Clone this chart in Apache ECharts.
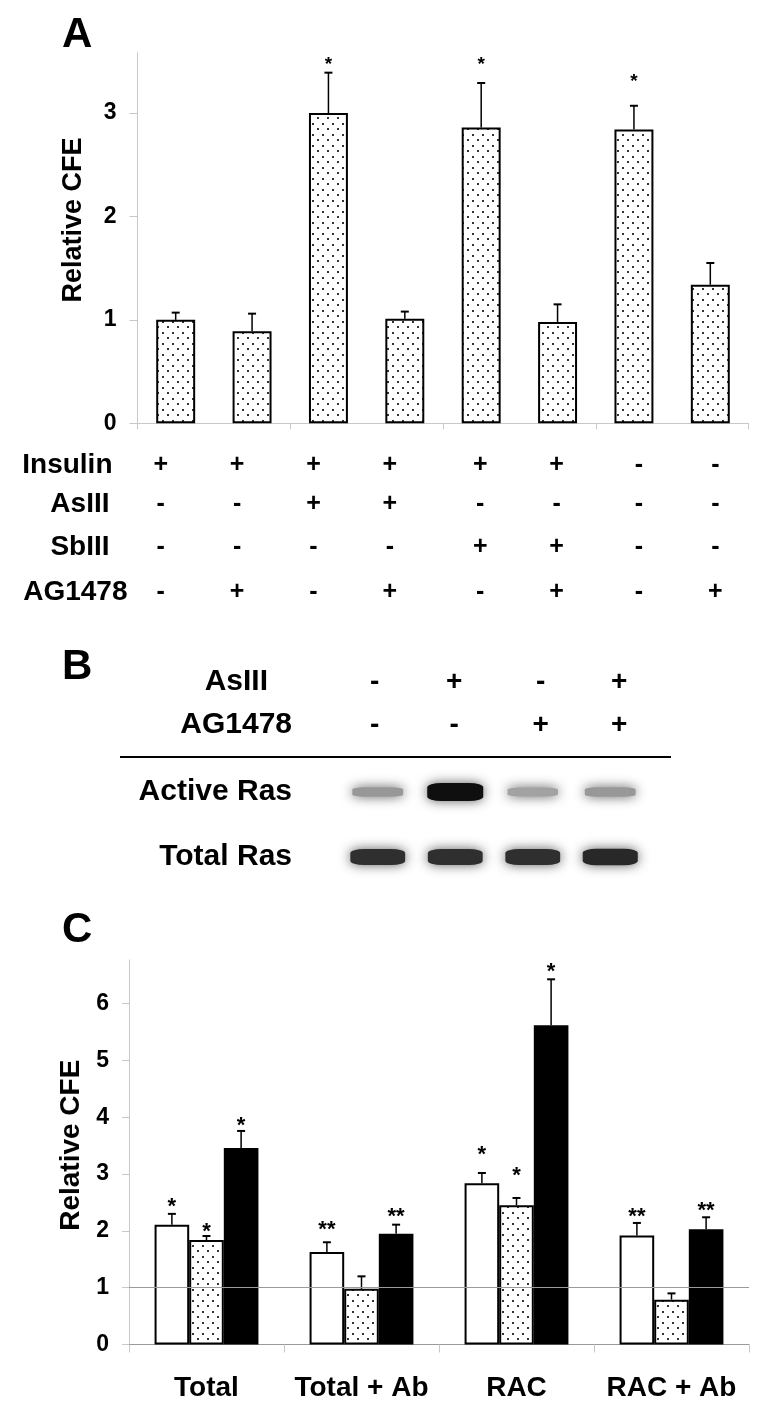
<!DOCTYPE html>
<html>
<head>
<meta charset="utf-8">
<script src="https://cdn.jsdelivr.net/npm/echarts@6/dist/echarts.min.js"></script>
<style>
  html, body { margin: 0; padding: 0; background: #fff; }
  #main { width: 764px; height: 1416px; }
</style>
</head>
<body>
<div id="main"></div>
<script>
// ---------- panel A : relative CFE per treatment ----------
const catsA = ['Ins', 'Ins+AG1478', 'Ins+AsIII', 'Ins+AsIII+AG1478', 'Ins+SbIII', 'Ins+SbIII+AG1478', 'None', 'AG1478'];
const valuesA = [1.00, 0.89, 3.00, 1.01, 2.86, 0.98, 2.84, 1.34];
const seA = [0.07, 0.17, 0.39, 0.07, 0.43, 0.17, 0.23, 0.21];
const sigA = ['', '', '*', '', '*', '', '*', ''];
const sigAY = [null, null, 3.52, null, 3.52, null, 3.36, null];
const ticksA = [0, 1, 2, 3];
// treatment table under panel A
const insulin = ['+', '+', '+', '+', '+', '+', '-', '-'];
const asIII = ['-', '-', '+', '+', '-', '-', '-', '-'];
const sbIII = ['-', '-', '-', '-', '+', '+', '-', '-'];
const ag1478 = ['-', '+', '-', '+', '-', '+', '-', '+'];

// ---------- panel B : Ras pull-down blot ----------
const lanesB = ['1', '2', '3', '4'];
const rowsB = ['Active Ras', 'Total Ras'];
const asIIIB = ['-', '+', '-', '+'];
const ag1478B = ['-', '-', '+', '+'];
const activeRas = [0.35, 1.0, 0.3, 0.35];   // band intensity 0..1
const totalRas = [0.85, 0.85, 0.85, 0.88];

// ---------- panel C : relative CFE per fraction ----------
const catsC = ['Total', 'Total + Ab', 'RAC', 'RAC + Ab'];
const openC = [2.11, 1.63, 2.84, 1.92];
const openSe = [0.19, 0.17, 0.18, 0.22];
const dotC = [1.84, 0.98, 2.45, 0.79];
const dotSe = [0.07, 0.22, 0.13, 0.11];
const solidC = [3.46, 1.95, 5.62, 2.03];
const solidSe = [0.30, 0.16, 0.81, 0.21];
const openSig = ['*', '**', '*', '**'];
const openSigY = [2.54, 2.13, 3.45, 2.36];
const dotSig = ['*', '', '*', ''];
const dotSigY = [2.10, null, 3.08, null];
const solidSig = ['*', '**', '*', '**'];
const solidSigY = [3.96, 2.37, 6.68, 2.47];
const ticksC = [0, 1, 2, 3, 4, 5, 6];

const FONT = "'Liberation Sans', Arial, Helvetica, sans-serif";
const AXIS_GRAY = '#c8c8c8';

// dotted fill, like the excel pattern
function dotPattern() {
  let c = document.createElement('canvas');
  c.width = 10; c.height = 11;
  let ctx = c.getContext('2d');
  ctx.fillStyle = '#fff';
  ctx.fillRect(0, 0, 10, 11);
  ctx.fillStyle = '#333';
  ctx.fillRect(2, 2, 2, 2);
  ctx.fillRect(7, 7, 2, 2);
  return { image: c, repeat: 'repeat' };
}
const dots = dotPattern();

// error bar (upper half only), offset = fraction of band width
function errRender(offset) {
  return function (params, api) {
    let i = api.value(0), m = api.value(1), e = api.value(2);
    let band = api.size([1, 0])[0];
    let p0 = api.coord([i, m]);
    let p1 = api.coord([i, m + e]);
    let x = p0[0] + offset * band;
    return {
      type: 'group',
      children: [
        { type: 'line', shape: { x1: x, y1: p0[1], x2: x, y2: p1[1] }, style: { stroke: '#000', lineWidth: 1.5 } },
        { type: 'line', shape: { x1: x - 4, y1: p1[1], x2: x + 4, y2: p1[1] }, style: { stroke: '#000', lineWidth: 2 } }
      ]
    };
  };
}

function stars(sig, ys) {
  return sig.map((s, i) => [i, ys[i], s]).filter(d => d[2]);
}

// significance stars
function starSeries(sig, ys, xIdx, yIdx, offset, size) {
  let list = stars(sig, ys);
  return {
    type: 'custom', xAxisIndex: xIdx, yAxisIndex: yIdx, z: 3,
    data: list.map(d => [d[0], d[1]]),
    encode: { x: 0, y: 1 },
    renderItem: function (params, api) {
      let i = api.value(0), y = api.value(1);
      let band = api.size([1, 0])[0];
      let p = api.coord([i, y]);
      return {
        type: 'text',
        x: p[0] + offset * band,
        y: p[1] + size * 0.3,
        style: {
          text: list[params.dataIndex][2], fill: '#000',
          fontSize: size, fontFamily: FONT, fontWeight: 'bold',
          align: 'center', verticalAlign: 'middle'
        }
      };
    }
  };
}

// sign rows: small horizontal shifts like the original layout
const signShiftA = [-15, -15, -15, -15, -1, -1, 5, 5];
function signRich(shifts, size) {
  let rich = {};
  shifts.forEach((s, i) => {
    rich['s' + i] = {
      fontSize: size, fontWeight: 'bold', fontFamily: FONT, color: '#000',
      padding: s < 0 ? [0, -2 * s, 0, 0] : [0, 0, 0, 2 * s]
    };
  });
  return rich;
}

function signAxis(grid, data, signs, pos, offset, name, nameGap, shifts, size, nameSize) {
  return {
    gridIndex: grid,
    type: 'category',
    data: data,
    position: pos,
    offset: offset,
    axisLine: { show: false },
    axisTick: { show: false },
    axisLabel: {
      interval: 0,
      margin: 0,
      verticalAlign: 'middle',
      formatter: (v, idx) => '{s' + idx + '|' + signs[idx] + '}',
      rich: signRich(shifts, size)
    },
    name: name,
    nameLocation: 'start',
    nameGap: nameGap,
    nameTextStyle: { fontSize: nameSize, fontWeight: 'bold', fontFamily: FONT, color: '#000', verticalAlign: 'middle' }
  };
}

let chart = echarts.init(document.getElementById('main'), null, { renderer: 'canvas' });

let option = {
  animation: false,
  backgroundColor: '#fff',
  textStyle: { fontFamily: FONT },
  grid: [
    { left: 137.5, top: 52.7, width: 611, height: 370.6, outerBoundsMode: 'none' },
    { left: 339, top: 759.5, width: 310, height: 130, outerBoundsMode: 'none' },
    { left: 129, top: 960, width: 620, height: 384.5, outerBoundsMode: 'none' }
  ],
  xAxis: [
    { // 0: panel A
      gridIndex: 0, type: 'category', data: catsA,
      axisLine: { lineStyle: { color: AXIS_GRAY, width: 1 } },
      axisTick: { show: true, alignWithLabel: false, length: 6, lineStyle: { color: AXIS_GRAY } },
      axisLabel: { show: false },
      splitLine: { show: false }
    },
    signAxis(0, catsA, insulin, 'bottom', 41.7, 'Insulin', 25, signShiftA, 25, 28),
    signAxis(0, catsA, asIII, 'bottom', 80.7, 'AsIII', 28, signShiftA, 25, 28),
    signAxis(0, catsA, sbIII, 'bottom', 123.7, 'SbIII', 28, signShiftA, 25, 28),
    signAxis(0, catsA, ag1478, 'bottom', 168.7, 'AG1478', 10, signShiftA, 25, 28),
    { // 5: panel B lanes
      gridIndex: 1, type: 'category', data: lanesB, show: false
    },
    signAxis(1, lanesB, asIIIB, 'top', 77.5, 'AsIII', 71, [-3, -1, 8, 9], 28, 30),
    signAxis(1, lanesB, ag1478B, 'top', 34.5, 'AG1478', 47, [-3, -1, 8, 9], 28, 30),
    { // 8: panel C
      gridIndex: 2, type: 'category', data: catsC,
      axisLine: { lineStyle: { color: '#9a9a9a', width: 1 } },
      axisTick: { show: true, alignWithLabel: false, length: 8, lineStyle: { color: AXIS_GRAY } },
      axisLabel: { interval: 0, margin: 30, fontSize: 28, fontWeight: 'bold', color: '#000', fontFamily: FONT },
      splitLine: { show: false }
    }
  ],
  yAxis: [
    {
      gridIndex: 0, type: 'value', min: 0, max: 3.583,
      axisLine: { show: true, lineStyle: { color: AXIS_GRAY } },
      axisTick: { show: true, length: 8, customValues: ticksA, lineStyle: { color: AXIS_GRAY } },
      axisLabel: { customValues: ticksA, margin: 21, fontSize: 23, fontWeight: 'bold', color: '#000', fontFamily: FONT },
      splitLine: { show: false },
      name: 'Relative CFE', nameLocation: 'middle', nameGap: 50,
      nameTextStyle: { fontSize: 27, fontWeight: 'bold', color: '#000', fontFamily: FONT, padding: [0, 0, 0, 36] }
    },
    {
      gridIndex: 1, type: 'category', data: rowsB, inverse: true,
      axisLine: { show: false }, axisTick: { show: false },
      axisLabel: { margin: 47, fontSize: 30, fontWeight: 'bold', color: '#000', fontFamily: FONT },
      splitLine: { show: false }
    },
    {
      gridIndex: 2, type: 'value', min: 0, max: 6.77,
      axisLine: { show: true, lineStyle: { color: AXIS_GRAY } },
      axisTick: { show: true, length: 7, customValues: ticksC, lineStyle: { color: AXIS_GRAY } },
      axisLabel: { customValues: ticksC, margin: 20, fontSize: 23, fontWeight: 'bold', color: '#000', fontFamily: FONT },
      splitLine: { show: false },
      name: 'Relative CFE', nameLocation: 'middle', nameGap: 39,
      nameTextStyle: { fontSize: 28, fontWeight: 'bold', color: '#000', fontFamily: FONT, padding: [0, 0, 0, 14] }
    }
  ],
  series: [
    // ---- A ----
    {
      type: 'bar', xAxisIndex: 0, yAxisIndex: 0, data: valuesA, barWidth: '51%', z: 2,
      itemStyle: { color: dots, borderColor: '#000', borderWidth: 2 }
    },
    {
      type: 'custom', xAxisIndex: 0, yAxisIndex: 0, z: 3,
      renderItem: errRender(0),
      data: valuesA.map((v, i) => [i, v, seA[i]]),
      encode: { x: 0, y: 1 }
    },
    starSeries(sigA, sigAY, 0, 0, 0, 19),
    // ---- B ----
    {
      type: 'scatter', xAxisIndex: 5, yAxisIndex: 1, symbol: 'roundRect',
      symbolSize: (v) => [48 + 8 * v[2], 5 + 13 * v[2]],
      data: activeRas.map((v, i) => [i, 0, v]).concat(totalRas.map((v, i) => [i, 1, v])),
      itemStyle: {
        color: (p) => {
          let g = Math.round(225 - 210 * p.value[2]);
          return 'rgb(' + g + ',' + g + ',' + g + ')';
        },
        shadowBlur: 12,
        shadowColor: 'rgba(40,40,40,0.75)',
        opacity: 1
      }
    },
    // ---- C ----
    {
      type: 'line', xAxisIndex: 8, yAxisIndex: 2, data: [], z: 1,
      markLine: {
        silent: true, symbol: 'none', label: { show: false },
        lineStyle: { color: '#9a9a9a', width: 1, type: 'solid' },
        data: [{ yAxis: 1 }]
      }
    },
    {
      name: 'open', type: 'bar', xAxisIndex: 8, yAxisIndex: 2, data: openC, z: 2,
      barGap: '0%', barCategoryGap: '33%',
      itemStyle: { color: '#fff', borderColor: '#000', borderWidth: 2 }
    },
    {
      name: 'dotted', type: 'bar', xAxisIndex: 8, yAxisIndex: 2, data: dotC, z: 2,
      barGap: '0%', barCategoryGap: '33%',
      itemStyle: { color: dots, borderColor: '#000', borderWidth: 2 }
    },
    {
      name: 'solid', type: 'bar', xAxisIndex: 8, yAxisIndex: 2, data: solidC, z: 2,
      barGap: '0%', barCategoryGap: '33%',
      itemStyle: { color: '#000', borderColor: '#000', borderWidth: 2 }
    },
    {
      type: 'custom', xAxisIndex: 8, yAxisIndex: 2, z: 3, renderItem: errRender(-0.2233),
      data: openC.map((v, i) => [i, v, openSe[i]]), encode: { x: 0, y: 1 }
    },
    {
      type: 'custom', xAxisIndex: 8, yAxisIndex: 2, z: 3, renderItem: errRender(0),
      data: dotC.map((v, i) => [i, v, dotSe[i]]), encode: { x: 0, y: 1 }
    },
    {
      type: 'custom', xAxisIndex: 8, yAxisIndex: 2, z: 3, renderItem: errRender(0.2233),
      data: solidC.map((v, i) => [i, v, solidSe[i]]), encode: { x: 0, y: 1 }
    },
    starSeries(openSig, openSigY, 8, 2, -0.2233, 22),
    starSeries(dotSig, dotSigY, 8, 2, 0, 22),
    starSeries(solidSig, solidSigY, 8, 2, 0.2233, 22)
  ],
  graphic: [
    { type: 'text', x: 62, y: 35, style: { text: 'A', font: 'bold 42px ' + FONT, fill: '#000', verticalAlign: 'middle' } },
    { type: 'text', x: 62, y: 667, style: { text: 'B', font: 'bold 42px ' + FONT, fill: '#000', verticalAlign: 'middle' } },
    { type: 'text', x: 62, y: 930, style: { text: 'C', font: 'bold 42px ' + FONT, fill: '#000', verticalAlign: 'middle' } },
    { type: 'line', shape: { x1: 120, y1: 757, x2: 671, y2: 757 }, style: { stroke: '#000', lineWidth: 2 } }
  ]
};

chart.setOption(option);
</script>
</body>
</html>
